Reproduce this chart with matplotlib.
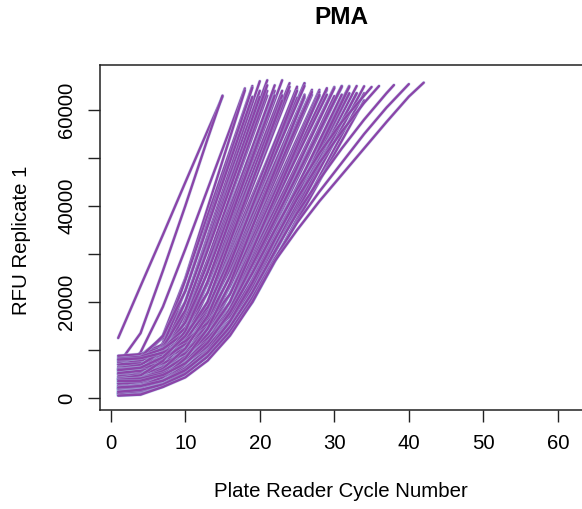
import matplotlib.pyplot as plt

plt.rcParams['font.family'] = ['Liberation Sans', 'DejaVu Sans']

# last plate-reader cycle recorded for each well (reads stop at saturation)
last_cycle = [15, 15, 18, 18, 19, 20, 20, 21, 21, 21, 22, 23, 23, 24, 24, 25,
              26, 26, 26, 27, 27, 28, 28, 29, 30, 31, 31, 30, 32, 33, 32, 33,
              34, 34,
              19, 19, 20, 21, 22, 22, 23, 24, 25, 25, 26, 26, 27, 28, 29, 29,
              30, 31, 31, 32, 33, 34, 22, 25, 28, 32, 26, 23,
              35, 36, 38, 40, 42]

# RFU readings, sampled every 3rd cycle (1, 4, 7, ...) plus the last cycle
sample_step = 3
rfu_rep1 = [
    [12500, 23300, 34000, 44900, 55700, 62800],
    [7000, 13500, 26500, 40000, 54000, 63000],
    [5000, 9500, 19000, 31000, 43500, 56000, 64500],
    [6000, 7330, 13010, 24900, 39600, 54300, 64100],
    [3000, 4620, 11520, 24500, 38000, 51500, 65000],
    [8000, 8860, 12540, 20000, 33800, 47600, 61400, 66000],
    [2000, 3290, 8800, 20000, 33200, 46400, 59600, 64000],
    [4500, 5610, 10360, 20000, 32600, 45200, 57800, 66200],
    [1500, 2530, 6930, 15870, 28600, 41500, 54400, 63000],
    [7000, 7720, 10820, 17100, 28800, 42000, 55200, 64000],
    [3500, 4420, 8340, 16310, 28000, 40000, 52000, 64000],
    [5500, 6140, 8880, 14460, 24200, 36800, 49400, 62000, 66200],
    [1000, 1840, 5430, 12740, 24000, 36000, 48000, 60000, 64000],
    [8500, 9010, 11180, 15600, 23800, 35200, 46600, 58000, 65600],
    [2500, 3130, 5820, 11270, 20000, 32000, 44000, 56000, 64000],
    [6500, 6990, 9060, 13270, 20000, 31100, 42200, 53300, 64400],
    [4000, 4570, 7030, 12020, 20000, 30500, 41000, 51500, 62000, 65500],
    [1200, 1760, 4140, 8970, 16710, 27600, 39000, 50400, 61800, 65600],
    [5000, 5450, 7350, 11200, 17380, 27200, 38000, 48800, 59600, 63200],
    [8800, 9130, 10550, 13430, 18040, 26800, 37000, 47200, 57400, 64200],
    [3000, 3420, 5230, 8880, 14750, 23600, 34400, 45200, 56000, 63200],
    [600, 800, 3140, 7310, 14000, 23400, 33600, 43800, 54000, 64200],
    [7500, 7810, 9140, 11830, 16140, 23300, 33200, 43100, 53000, 62900],
    [2000, 2380, 4000, 7280, 12540, 20000, 30200, 40400, 50600, 60800, 64200],
    [5500, 5800, 7110, 9760, 13990, 20000, 29600, 39200, 48800, 58400, 64800],
    [900, 1300, 3020, 6510, 12080, 20000, 29000, 38000, 47000, 56000, 65000],
    [4000, 4290, 5520, 8020, 12020, 17710, 26400, 36000, 45600, 55200, 64800],
    [7000, 7230, 8240, 10270, 13520, 18140, 26600, 36500, 46400, 56300, 62900],
    [1500, 1830, 3260, 6150, 10770, 17360, 26000, 35000, 44000, 53000, 62000, 65000],
    [2500, 2770, 3940, 6300, 10090, 15450, 23000, 32000, 41000, 50000, 59000, 65000],
    [800, 1100, 2380, 4970, 9120, 15010, 23100, 32400, 41700, 51000, 60300, 63400],
    [5000, 5230, 6230, 8260, 11500, 16100, 22900, 31600, 40300, 49000, 57700, 63500],
    [1800, 2050, 3100, 5250, 8680, 13550, 20000, 28700, 37400, 46100, 54800, 63500],
    [3200, 3430, 4400, 6380, 9550, 14050, 20000, 28400, 36800, 45200, 53600, 62000],
    [4000, 5320, 10940, 22350, 36450, 50550, 64650],
    [7500, 8530, 12920, 22250, 35750, 49250, 62750],
    [2500, 3600, 8320, 17870, 31250, 44750, 58250, 62750],
    [5800, 6700, 10520, 18270, 30750, 43650, 56550, 65150],
    [900, 1840, 5890, 14100, 26450, 39350, 52250, 65150],
    [6200, 6880, 9800, 15740, 26150, 38450, 50750, 63050],
    [3000, 3680, 6570, 12450, 22050, 34350, 46650, 58950, 63050],
    [7800, 8290, 10360, 14580, 21950, 33650, 45350, 57050, 64850],
    [1800, 2390, 4930, 10080, 18300, 29750, 41450, 53150, 64850],
    [5200, 5680, 7740, 11930, 18620, 29250, 40350, 51450, 62550],
    [8200, 8590, 10230, 13570, 18900, 29000, 39800, 50600, 61400, 65000],
    [2200, 2680, 4740, 8930, 15620, 25550, 36650, 47750, 58850, 62550],
    [6000, 6380, 8000, 11290, 16550, 25250, 35750, 46250, 56750, 63750],
    [1000, 1430, 3290, 7050, 13080, 21750, 32250, 42750, 53250, 63750],
    [4500, 4850, 6370, 9440, 14350, 21650, 31550, 41450, 51350, 61250, 64550],
    [8000, 8270, 9450, 11820, 15630, 21600, 31200, 40800, 50400, 60000, 63200],
    [3000, 3330, 4740, 7620, 12190, 18730, 28250, 38150, 48050, 57950, 64550],
    [600, 980, 2590, 5870, 11090, 18550, 27750, 37050, 46350, 55650, 64950],
    [2000, 2300, 3590, 6190, 10370, 16310, 24800, 34400, 44000, 53600, 63200],
    [6000, 6230, 7240, 9260, 12510, 17130, 24500, 33500, 42500, 51500, 60500, 63500],
    [1200, 1470, 2640, 5010, 8810, 14190, 21500, 30500, 39500, 48500, 57500, 63500],
    [4200, 4430, 5410, 7400, 10590, 15120, 21450, 30150, 38850, 47550, 56250, 64950],
    [4000, 4710, 7730, 13880, 24300, 37200, 50100, 63000],
    [3500, 3990, 6080, 10320, 17110, 28000, 40000, 52000, 64000],
    [3800, 4140, 5600, 8560, 13280, 20000, 30800, 41600, 52400, 63200],
    [3800, 4050, 5130, 7320, 10820, 15790, 23200, 32800, 42400, 52000, 61600, 64800],
    [2000, 2450, 4360, 8230, 14440, 23900, 35600, 47300, 59000, 62900],
    [5800, 6310, 8490, 12920, 20000, 32600, 45200, 57800, 62000],
    [3500, 3600, 4800, 7200, 11500, 17800, 26000, 35000, 43500, 51000, 57500, 63000, 64800],
    [1000, 1500, 2900, 5500, 9800, 16000, 24000, 33000, 41500, 49000, 55500, 61500, 65000],
    [2200, 2500, 3600, 5800, 9500, 14800, 22000, 30500, 38500, 45500, 52000, 58000, 63500, 65200],
    [1300, 1700, 2800, 5000, 8600, 13800, 20800, 29000, 36500, 43000, 49000, 55000, 60500, 65400],
    [500, 700, 2300, 4300, 7800, 13000, 20000, 28500, 35000, 41000, 46500, 52000, 57500, 62800, 65700],
]

x_ticks = [0, 10, 20, 30, 40, 50, 60]
y_ticks = [0, 10000, 20000, 30000, 40000, 50000, 60000]
y_tick_labels = ['0', '', '20000', '', '40000', '', '60000']

fig = plt.figure(figsize=(5.82, 5.09), dpi=100)
# plot region runs past the right edge of the picture, as in the original
ax = fig.add_axes([100 / 582, 1 - 410 / 509, 491 / 582, 345 / 509])

for end, vals in zip(last_cycle, rfu_rep1):
    cyc = list(range(1, end, sample_step)) + [end]
    ax.plot(cyc, vals, color='#a8c4e6', lw=2.5, alpha=0.5, solid_capstyle='round')
    ax.plot(cyc, vals, color='#8b44a8', lw=1.7, solid_capstyle='round')

ax.set_xlim(-1.44, 64.44)
ax.set_ylim(-2500, 69375)
ax.set_xticks(x_ticks)
ax.set_yticks(y_ticks)
ax.set_yticklabels(y_tick_labels, rotation=90, va='center')
ax.tick_params(direction='out', length=8.6, width=1.0, pad=8.6,
               labelsize=14.7, color='#222222')
for s in ax.spines.values():
    s.set_linewidth(1.1)
    s.set_color('#222222')

ax.set_xlabel('Plate Reader Cycle Number', fontsize=14.7)
ax.xaxis.set_label_coords(0.491, -0.235)
ax.xaxis.label.set_va('center')
ax.set_ylabel('RFU Replicate 1', fontsize=14.7)
ax.yaxis.set_label_coords(-0.159, 0.493)
ax.yaxis.label.set_va('center')

fig.text(341 / 582, 1 - 18 / 509, 'PMA', fontsize=17.6, fontweight='bold',
         ha='center', va='center')

fig.savefig('out.png', dpi=100)
